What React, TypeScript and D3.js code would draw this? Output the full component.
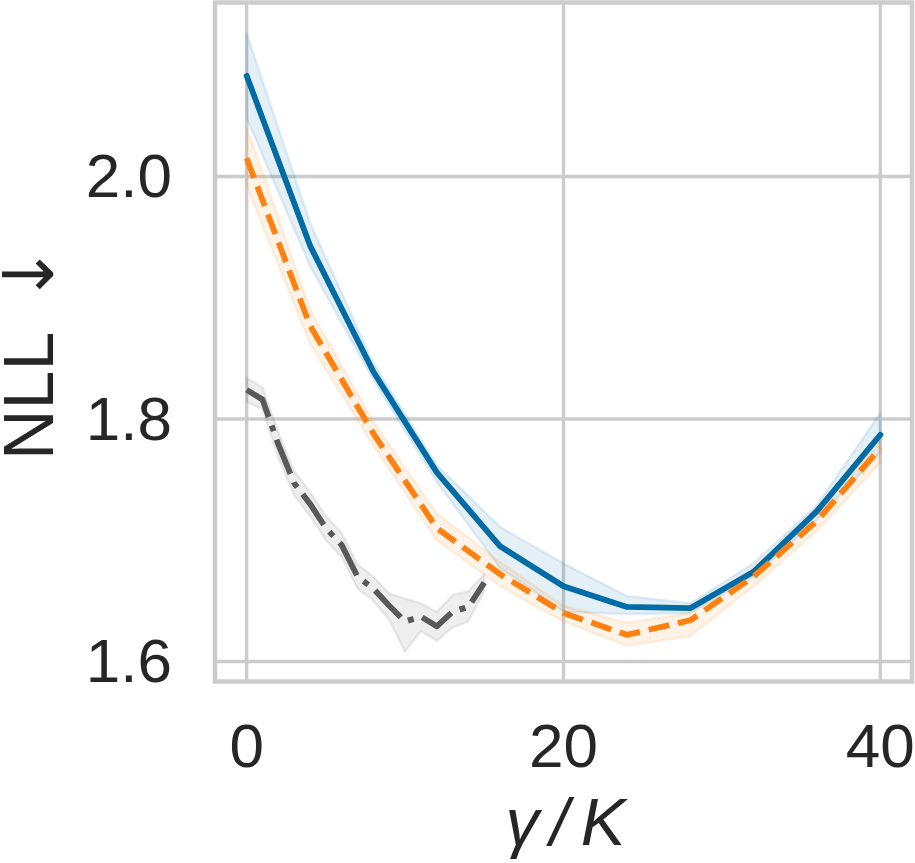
import { useRef, useEffect } from 'react';
import * as d3 from 'd3';

const W = 915;
const H = 863;
// axes box in pixels
const BOX = { left: 215, right: 912, top: 2.5, bottom: 681.5 };

const X_TICKS = [0, 20, 40];
const Y_TICKS = [1.6, 1.8, 2.0];

// gamma / K for the two long runs
const gammaSteps = [0, 4, 8, 12, 16, 20, 24, 28, 32, 36, 40];
const blueMean = [2.083, 1.943, 1.839, 1.756, 1.695, 1.662, 1.645, 1.644, 1.674, 1.724, 1.787];
const blueLow = [2.048, 1.926, 1.832, 1.748, 1.677, 1.641, 1.639, 1.640, 1.670, 1.717, 1.772];
const blueHigh = [2.118, 1.962, 1.846, 1.762, 1.711, 1.681, 1.654, 1.648, 1.681, 1.729, 1.805];

const orangeMean = [2.015, 1.877, 1.788, 1.710, 1.672, 1.640, 1.622, 1.634, 1.670, 1.716, 1.776];
const orangeLow = [1.992, 1.862, 1.778, 1.700, 1.662, 1.633, 1.613, 1.621, 1.662, 1.708, 1.764];
const orangeHigh = [2.041, 1.890, 1.798, 1.722, 1.682, 1.646, 1.632, 1.640, 1.677, 1.722, 1.785];

// short run, unit steps
const grayX = [0, 1, 2, 3, 4, 5, 6, 7, 8, 9, 10, 11, 12, 13, 14, 15];
const grayMean = [1.824, 1.816, 1.779, 1.747, 1.730, 1.710, 1.696, 1.670, 1.660, 1.646, 1.633, 1.637, 1.629, 1.641, 1.645, 1.665];
const grayLow = [1.814, 1.808, 1.768, 1.737, 1.720, 1.700, 1.686, 1.660, 1.650, 1.634, 1.608, 1.625, 1.617, 1.628, 1.633, 1.658];
const grayHigh = [1.834, 1.826, 1.789, 1.757, 1.740, 1.720, 1.706, 1.680, 1.670, 1.656, 1.652, 1.648, 1.641, 1.655, 1.658, 1.672];

const BLUE = '#006BA4';
const ORANGE = '#FF800E';
const GRAY = '#595959';
const GRID = '#cccccc';
const TEXT = '#262626';
const FONT = '"Liberation Sans", Arial, sans-serif';

export default function App() {
  const svgRef = useRef<SVGSVGElement>(null);

  useEffect(() => {
    const svg = d3.select(svgRef.current);
    svg.selectAll('*').remove();

    const x = d3.scaleLinear().domain([-2, 42]).range([BOX.left, BOX.right]);
    const y = d3.scaleLinear().domain([1.5835, 2.1435]).range([BOX.bottom, BOX.top]);

    // grid
    const grid = svg.append('g');
    X_TICKS.forEach(t => {
      grid.append('line')
        .attr('x1', x(t)).attr('x2', x(t))
        .attr('y1', BOX.top).attr('y2', BOX.bottom)
        .attr('stroke', GRID).attr('stroke-width', 3.3);
    });
    Y_TICKS.forEach(t => {
      grid.append('line')
        .attr('x1', BOX.left).attr('x2', BOX.right)
        .attr('y1', y(t)).attr('y2', y(t))
        .attr('stroke', GRID).attr('stroke-width', 3.3);
    });

    const series = [
      { xs: gammaSteps, mean: blueMean, lo: blueLow, hi: blueHigh, color: BLUE, dash: null },
      { xs: gammaSteps, mean: orangeMean, lo: orangeLow, hi: orangeHigh, color: ORANGE, dash: '21,9' },
      { xs: grayX, mean: grayMean, lo: grayLow, hi: grayHigh, color: GRAY, dash: '37,9,6,9' },
    ];

    const plot = svg.append('g');

    // error bands
    series.forEach(s => {
      const area = d3.area<number>()
        .x(i => x(s.xs[i]))
        .y0(i => y(s.lo[i]))
        .y1(i => y(s.hi[i]));
      plot.append('path')
        .attr('d', area(d3.range(s.xs.length)))
        .attr('fill', s.color).attr('fill-opacity', 0.1)
        .attr('stroke', s.color).attr('stroke-opacity', 0.1)
        .attr('stroke-width', 2.5).attr('stroke-linejoin', 'round');
    });

    // mean lines
    series.forEach(s => {
      const line = d3.line<number>()
        .x(i => x(s.xs[i]))
        .y(i => y(s.mean[i]));
      const p = plot.append('path')
        .attr('d', line(d3.range(s.xs.length)))
        .attr('fill', 'none')
        .attr('stroke', s.color).attr('stroke-width', 5.8)
        .attr('stroke-linejoin', 'round');
      if (s.dash) p.attr('stroke-dasharray', s.dash).attr('stroke-linecap', 'butt');
      else p.attr('stroke-linecap', 'round');
    });

    // frame
    svg.append('rect')
      .attr('x', BOX.left).attr('y', BOX.top)
      .attr('width', BOX.right - BOX.left).attr('height', BOX.bottom - BOX.top)
      .attr('fill', 'none').attr('stroke', GRID).attr('stroke-width', 4.5);

    // tick labels
    const labels = svg.append('g').attr('font-family', FONT).attr('fill', TEXT);
    X_TICKS.forEach(t => {
      labels.append('text')
        .attr('x', x(t)).attr('y', 767)
        .attr('text-anchor', 'middle').attr('font-size', 62)
        .text(String(t));
    });
    Y_TICKS.forEach(t => {
      labels.append('text')
        .attr('x', 172).attr('y', y(t) + 21)
        .attr('text-anchor', 'end').attr('font-size', 62)
        .text(t.toFixed(1));
    });

    // axis labels
    const xl = labels.append('text')
      .attr('x', (BOX.left + BOX.right) / 2 + 2).attr('y', 845)
      .attr('text-anchor', 'middle').attr('font-size', 67)
      .attr('font-style', 'italic');
    xl.append('tspan').text('γ');
    xl.append('tspan').attr('dx', 11).text('/');
    xl.append('tspan').attr('dx', 12).text('K');

    const yl = labels.append('text')
      .attr('transform', 'translate(52.5,460) rotate(-90)')
      .attr('text-anchor', 'start').attr('font-size', 70);
    yl.append('tspan').text('NLL');
    yl.append('tspan')
      .attr('dx', 28)
      .attr('font-family', '"DejaVu Sans", sans-serif')
      .text('↓');
  }, []);

  return (
    <svg
      ref={svgRef}
      width={W}
      height={H}
      style={{ position: 'absolute', left: 0, top: 0, background: '#fff' }}
    />
  );
}
